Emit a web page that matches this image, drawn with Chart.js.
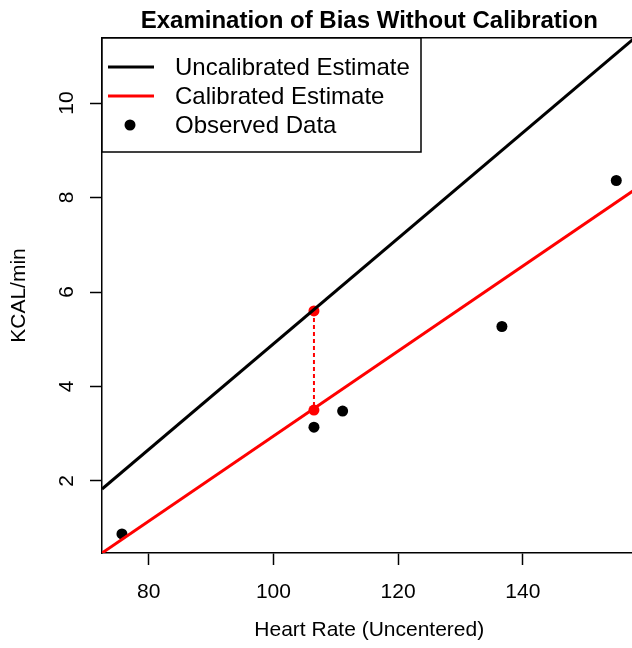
<!DOCTYPE html>
<html>
<head>
<meta charset="utf-8">
<script src="https://cdn.jsdelivr.net/npm/chart.js@4/dist/chart.umd.min.js"></script>
<style>
  html, body { margin: 0; padding: 0; background: #fff; overflow: hidden; }
  canvas { display: block; }
</style>
</head>
<body>
<canvas id="chart" width="642" height="648"></canvas>
<script>
// values
const hrTicks = [80, 100, 120, 140];
const kcalTicks = [2, 4, 6, 8, 10];
const observedHR = [75.7, 106.5, 111.1, 136.65, 155.0];
const observedKcal = [0.88, 3.14, 3.48, 5.27, 8.36];
const lineHR = [72.5, 158.24];
const uncalibratedKcal = [1.83, 11.41];
const calibratedKcal = [0.476, 8.19];
const biasHR = [106.5, 106.5];
const biasKcal = [5.6, 3.5];

const FONT = '"Liberation Sans", Arial, Helvetica, sans-serif';
const pts = (xs, ys) => xs.map((x, i) => ({ x, y: ys[i] }));

// title + legend drawn on top, R style
const extras = {
  id: 'extras',
  afterDraw(chart) {
    const { ctx, chartArea: a } = chart;
    ctx.save();
    ctx.fillStyle = '#000';
    ctx.font = 'bold 24px ' + FONT;
    ctx.textAlign = 'center';
    ctx.textBaseline = 'middle';
    ctx.fillText('Examination of Bias Without Calibration', (a.left + a.right) / 2, 21);

    // legend box
    const bx = a.left, by = a.top, bw = 319, bh = 114;
    ctx.fillStyle = '#fff';
    ctx.fillRect(bx, by, bw, bh);
    ctx.strokeStyle = '#000';
    ctx.lineWidth = 1.5;
    ctx.strokeRect(bx, by, bw, bh);
    const items = [
      { label: 'Uncalibrated Estimate', type: 'line', color: '#000' },
      { label: 'Calibrated Estimate', type: 'line', color: '#ff0000' },
      { label: 'Observed Data', type: 'dot', color: '#000' }
    ];
    ctx.font = '24px ' + FONT;
    ctx.textAlign = 'left';
    items.forEach((it, i) => {
      const y = by + 29 + i * 29;
      if (it.type === 'line') {
        ctx.strokeStyle = it.color;
        ctx.lineWidth = 3;
        ctx.beginPath(); ctx.moveTo(bx + 6, y); ctx.lineTo(bx + 52, y); ctx.stroke();
      } else {
        ctx.fillStyle = it.color;
        ctx.beginPath(); ctx.arc(bx + 28, y, 5.5, 0, Math.PI * 2); ctx.fill();
      }
      ctx.fillStyle = '#000';
      ctx.fillText(it.label, bx + 73, y + 1);
    });
    ctx.restore();
  }
};

new Chart(document.getElementById('chart'), {
  type: 'scatter',
  data: {
    datasets: [
      { label: 'Uncalibrated Estimate', data: pts(lineHR, uncalibratedKcal), showLine: true,
        borderColor: '#000', borderWidth: 3, pointRadius: 0 },
      { label: 'Calibrated Estimate', data: pts(lineHR, calibratedKcal), showLine: true,
        borderColor: '#ff0000', borderWidth: 3, pointRadius: 0 },
      { label: 'Bias', data: pts(biasHR, biasKcal), showLine: true,
        borderColor: '#ff0000', borderWidth: 2, borderDash: [4, 3],
        pointRadius: 5.5, pointBackgroundColor: '#ff0000', pointBorderWidth: 0 },
      { label: 'Observed Data', data: pts(observedHR, observedKcal),
        pointRadius: 5.5, pointBackgroundColor: '#000', pointBorderWidth: 0 }
    ]
  },
  options: {
    responsive: false,
    animation: false,
    layout: { padding: { top: 38, right: 1, left: 0, bottom: 0 } },
    plugins: { legend: { display: false }, tooltip: { enabled: false } },
    scales: {
      x: {
        min: 72.5, max: 158.24,
        afterBuildTicks: s => { s.ticks = hrTicks.map(v => ({ value: v })); },
        afterFit: s => { s.height = 95; },
        grid: { drawOnChartArea: false, tickLength: 12, tickColor: '#000', tickWidth: 1.5 },
        border: { color: '#000', width: 1.5 },
        ticks: { color: '#000', font: { family: FONT, size: 21 }, padding: 15, maxRotation: 0 },
        title: { display: true, text: 'Heart Rate (Uncentered)', color: '#000',
                 font: { family: FONT, size: 21 }, padding: { top: 0, bottom: 5 } }
      },
      y: {
        min: 0.476, max: 11.376,
        afterBuildTicks: s => { s.ticks = kcalTicks.map(v => ({ value: v })); },
        afterFit: s => { s.width = 102; },
        grid: { drawOnChartArea: false, tickLength: 12, tickColor: '#000', tickWidth: 1.5 },
        border: { color: '#000', width: 1.5 },
        ticks: { color: '#000', font: { family: FONT, size: 21 }, padding: 11,
                 minRotation: 90, maxRotation: 90, crossAlign: 'center' },
        title: { display: true, text: 'KCAL/min', color: '#000',
                 font: { family: FONT, size: 21 }, padding: { top: 7, bottom: 0 } }
      },
      x2: { type: 'linear', position: 'top', display: true, min: 72.5, max: 158.24,
            ticks: { display: false }, grid: { display: false },
            border: { color: '#000', width: 1.5 }, afterFit: s => { s.height = 0; } }
    }
  },
  plugins: [extras]
});
</script>
</body>
</html>
